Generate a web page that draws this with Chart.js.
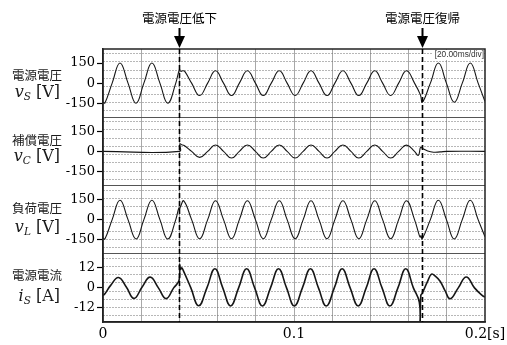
<!doctype html>
<html lang="ja">

<head>
    <meta charset="utf-8">
    <title>電源電圧低下時の補償波形</title>
    <style>
        html, body { margin: 0; padding: 0; background: #fff; }
        #wrap { width: 507px; height: 345px; }
    </style>
</head>

<body>
    <div id="wrap"><canvas id="chart" width="507" height="345"></canvas></div>

    <script src="https://cdn.jsdelivr.net/npm/chart.js@4.4.1/dist/chart.umd.min.js"></script>
    <script>
        // values, time in seconds
        const tSrc = [0, 0.0010, 0.0048, 0.0089, 0.0131, 0.0173, 0.0214, 0.0256, 0.0298, 0.0339,
            0.0381, 0.0400, 0.0408, 0.0418, 0.0428, 0.0464, 0.0506, 0.0548, 0.0589, 0.0631,
            0.0673, 0.0714, 0.0756, 0.0798, 0.0839, 0.0881, 0.0923, 0.0964, 0.1006, 0.1048,
            0.1089, 0.1131, 0.1173, 0.1214, 0.1256, 0.1298, 0.1339, 0.1381, 0.1423, 0.1464,
            0.1506, 0.1548, 0.1589, 0.1631, 0.1662, 0.1672, 0.1714, 0.1756, 0.1798, 0.1839,
            0.1881, 0.1923, 0.1964, 0.2000];
        const vSrc = [-143, -148, 0, 150, 0, -150, 0, 150, 0, -150,
            0, 100, 88, 92, 88, 0, -93, 0, 92, 0,
            -93, 0, 92, 0, -93, 0, 92, 0, -93, 0,
            92, 0, -93, 0, 92, 0, -93, 0, 92, 0,
            -93, 0, 92, 0, -88, -143, 0, 150, 0, -143,
            0, 150, 0, -138];

        const tComp = [0, 0.0400, 0.0403, 0.0412, 0.0425, 0.0464, 0.0506, 0.0548, 0.0589, 0.0631,
            0.0673, 0.0714, 0.0756, 0.0798, 0.0839, 0.0881, 0.0923, 0.0964, 0.1006, 0.1048,
            0.1089, 0.1131, 0.1173, 0.1214, 0.1256, 0.1298, 0.1339, 0.1381, 0.1423, 0.1464,
            0.1506, 0.1548, 0.1589, 0.1631, 0.1651, 0.1663, 0.1672, 0.1700, 0.1730, 0.1765,
            0.1800, 0.2000];
        const vComp = [0, 0, 55, 50, 44, 0, -45, 0, 48, 0,
            -50, 0, 48, 0, -50, 0, 48, 0, -50, 0,
            48, 0, -50, 0, 48, 0, -50, 0, 48, 0,
            -50, 0, 47, 0, -30, 32, 22, 3, -6, -4,
            0, 0];

        const tLoad = [0, 0.0010, 0.0048, 0.0089, 0.0131, 0.0173, 0.0214, 0.0256, 0.0298, 0.0339,
            0.0381, 0.0397, 0.0401, 0.0406, 0.0423, 0.0464, 0.0506, 0.0548, 0.0589, 0.0631,
            0.0673, 0.0714, 0.0756, 0.0798, 0.0839, 0.0881, 0.0923, 0.0964, 0.1006, 0.1048,
            0.1089, 0.1131, 0.1173, 0.1214, 0.1256, 0.1298, 0.1339, 0.1381, 0.1423, 0.1464,
            0.1506, 0.1548, 0.1589, 0.1631, 0.1656, 0.1661, 0.1665, 0.1671, 0.1714, 0.1756,
            0.1798, 0.1839, 0.1881, 0.1923, 0.1964, 0.2000];
        const vLoad = [-138, -145, 0, 145, 0, -145, 0, 145, 0, -145,
            0, 88, 80, 98, 140, 0, -143, 0, 141, 0,
            -143, 0, 141, 0, -143, 0, 141, 0, -143, 0,
            141, 0, -143, 0, 141, 0, -143, 0, 141, 0,
            -143, 0, 141, 0, -118, -132, -120, -145, 0, 145,
            0, -145, 0, 145, 0, -128];

        const tCur = [0, 0.0010, 0.0040, 0.0081, 0.0122, 0.0162, 0.0205, 0.0247, 0.0290, 0.0330,
            0.0370, 0.0398, 0.0401, 0.0406, 0.0412, 0.0420, 0.0460, 0.0501, 0.0544, 0.0586,
            0.0627, 0.0668, 0.0710, 0.0752, 0.0794, 0.0835, 0.0877, 0.0919, 0.0961, 0.1002,
            0.1044, 0.1086, 0.1128, 0.1169, 0.1211, 0.1252, 0.1294, 0.1336, 0.1378, 0.1419,
            0.1461, 0.1502, 0.1544, 0.1585, 0.1625, 0.1656, 0.1660, 0.1664, 0.1670, 0.1700,
            0.1720, 0.1740, 0.1765, 0.1790, 0.1818, 0.1860, 0.1902, 0.1945, 0.1985, 0.2000];
        const iCur = [-4.5, -3.5, 1.5, 6.2, 0.5, -6.3, 0.5, 6.4, 0, -6.4,
            0, 4.5, 14, 11, 12, 10.5, 0, -10.7, 0, 11.4,
            0, -10.8, 0, 11.4, 0, -10.8, 0, 11.4, 0, -10.8,
            0, 11.4, 0, -10.8, 0, 11.4, 0, -10.8, 0, 11.4,
            0, -10.8, 0, 11.4, 0, -8.5, -21, -4.5, -3.5, 4,
            8.2, 7, 4, -1.5, -6.5, 0, 6.5, 0, -4.5, -5.5];

        // axes
        const xGrid = [0, 0.02, 0.04, 0.06, 0.08, 0.1, 0.12, 0.14, 0.16, 0.18, 0.2];
        const xLabelVals = [0, 0.1, 0.2];
        const xLabelText = ['0', '0.1', '0.2[s]'];
        const vTicks = [150, 0, -150];
        const iTicks = [12, 0, -12];
        const vDots = [220, 160, 98, 37, -25, -85, -147, -208];
        const iDots = [17.5, 12.7, 7.8, 3.0, -2.0, -6.8, -11.8, -16.6];

        // text
        const eventTimes = [0.04, 0.1672];
        const eventLabels = ['電源電圧低下', '電源電圧復帰'];
        const panelNames = ['電源電圧', '補償電圧', '負荷電圧', '電源電流'];
        const panelSym = ['v', 'v', 'v', 'i'];
        const panelSub = ['S', 'C', 'L', 'S'];
        const panelUnit = [' [V]', ' [V]', ' [V]', ' [A]'];
        const nameY = [75, 140, 208, 275];
        const symY = [93, 157, 228, 297];

        const INK = '#161616';
        const NONE = 'rgba(0,0,0,0)';
        const DOT = '#6f6f6f';
        const MAJOR = '#a8a8a8';

        function panelAxis(weight, min, max, labelVals, dotVals, showTop) {
            return {
                type: 'linear',
                position: 'left',
                stack: 'scope',
                stackWeight: 1,
                weight: weight,
                min: min,
                max: max,
                afterBuildTicks: s => {
                    s.ticks = [min, ...dotVals, ...labelVals, max].sort((a, b) => a - b).map(v => ({ value: v }));
                },
                afterFit: s => { s.width = 103; s.paddingTop = 0; s.paddingBottom = 0; },
                ticks: {
                    autoSkip: false,
                    padding: 2,
                    color: '#000',
                    font: { family: 'DejaVu Serif', size: 13 },
                    callback: v => labelVals.includes(v) ? String(v) : ''
                },
                grid: {
                    tickLength: 6,
                    lineWidth: 1,
                    tickWidth: 1.2,
                    color: c => {
                        if (!c.tick) return NONE;
                        if (dotVals.includes(c.tick.value)) return DOT;
                        if (showTop && c.tick.value === max) return '#555';
                        return NONE;
                    },
                    tickColor: c => (c.tick && labelVals.includes(c.tick.value)) ? '#000' : NONE
                },
                border: {
                    display: true,
                    color: '#222',
                    width: 1.5,
                    dash: c => (c.tick && dotVals.includes(c.tick.value)) ? [1, 2] : []
                }
            };
        }

        const scopeDecor = {
            id: 'scopeDecor',
            afterDatasetsDraw(chart) {
                const g = chart.ctx;
                const a = chart.chartArea;
                const xs = chart.scales.x;
                g.save();

                // time/div box
                g.fillStyle = '#fff';
                g.fillRect(432, 50, 52, 10);
                g.fillStyle = '#333';
                g.font = '8.3px "Liberation Sans"';
                g.textAlign = 'right';
                g.textBaseline = 'middle';
                g.fillText('[20.00ms/div]', 484, 55);

                // frame
                g.strokeStyle = '#222';
                g.lineWidth = 1.5;
                g.strokeRect(a.left, a.top, a.right - a.left, a.bottom - a.top);

                // event markers
                g.strokeStyle = '#000';
                g.fillStyle = '#000';
                eventTimes.forEach((t, i) => {
                    const px = Math.round(xs.getPixelForValue(t)) + 0.5;
                    g.lineWidth = 1.6;
                    g.setLineDash([5, 3]);
                    g.beginPath();
                    g.moveTo(px, a.top);
                    g.lineTo(px, a.bottom);
                    g.stroke();
                    g.setLineDash([]);
                    g.lineWidth = 2;
                    g.beginPath();
                    g.moveTo(px, 28);
                    g.lineTo(px, 37);
                    g.stroke();
                    g.beginPath();
                    g.moveTo(px - 5.5, 36);
                    g.lineTo(px + 5.5, 36);
                    g.lineTo(px, 48);
                    g.closePath();
                    g.fill();
                    g.font = '12.5px "Noto Sans CJK JP"';
                    g.textAlign = 'center';
                    g.textBaseline = 'middle';
                    g.fillText(eventLabels[i], px, 18);
                });
                g.restore();
            },
            afterDraw(chart) {
                const g = chart.ctx;
                g.save();
                g.fillStyle = '#1a1a1a';
                g.textBaseline = 'middle';
                const fSym = 'italic 16px "DejaVu Serif"';
                const fSub = 'italic 10.5px "DejaVu Serif"';
                const fUnit = '16px "DejaVu Serif"';
                panelNames.forEach((name, i) => {
                    g.textAlign = 'left';
                    g.font = '12.5px "Noto Sans CJK JP"';
                    g.fillText(name, 12, nameY[i]);

                    g.font = fSym; const w1 = g.measureText(panelSym[i]).width;
                    g.font = fSub; const w2 = g.measureText(panelSub[i]).width;
                    g.font = fUnit; const w3 = g.measureText(panelUnit[i]).width;
                    const x0 = 60 - (w1 + w2 + w3);
                    g.font = fSym; g.fillText(panelSym[i], x0, symY[i]);
                    g.font = fSub; g.fillText(panelSub[i], x0 + w1, symY[i] + 4);
                    g.font = fUnit; g.fillText(panelUnit[i], x0 + w1 + w2, symY[i]);
                });
                g.restore();
            }
        };

        const pts = (ts, vs) => ts.map((t, i) => ({ x: t, y: vs[i] }));
        const trace = (data, yAxisID, width) => ({
            data: data,
            yAxisID: yAxisID,
            borderColor: INK,
            borderWidth: width,
            pointRadius: 0,
            tension: 0.45,
            fill: false
        });

        new Chart(document.getElementById('chart'), {
            type: 'line',
            data: {
                datasets: [
                    trace(pts(tSrc, vSrc), 'yS', 1.1),
                    trace(pts(tComp, vComp), 'yC', 1.1),
                    trace(pts(tLoad, vLoad), 'yL', 1.1),
                    trace(pts(tCur, iCur), 'yI', 1.6)
                ]
            },
            options: {
                responsive: false,
                animation: false,
                devicePixelRatio: 1,
                layout: { padding: { left: 0, right: 22, top: 49, bottom: 0 } },
                plugins: { legend: { display: false }, tooltip: { enabled: false } },
                scales: {
                    x: {
                        type: 'linear',
                        position: 'bottom',
                        min: 0,
                        max: 0.2,
                        afterBuildTicks: s => { s.ticks = xGrid.map(v => ({ value: v })); },
                        afterFit: s => { s.height = 23; s.paddingLeft = 0; s.paddingRight = 0; },
                        ticks: {
                            autoSkip: false,
                            maxRotation: 0,
                            padding: 4,
                            color: '#000',
                            font: { family: 'DejaVu Serif', size: 14 },
                            callback: v => {
                                const k = xLabelVals.findIndex(u => Math.abs(u - v) < 1e-9);
                                return k < 0 ? '' : xLabelText[k];
                            }
                        },
                        grid: {
                            drawTicks: false,
                            lineWidth: 1,
                            color: c => (c.tick && c.tick.value > 0.001 && c.tick.value < 0.199) ? MAJOR : NONE
                        },
                        border: { display: true, color: '#222', width: 1.5 }
                    },
                    yS: panelAxis(4, -255, 255, vTicks, vDots, false),
                    yC: panelAxis(3, -255, 255, vTicks, vDots, true),
                    yL: panelAxis(2, -255, 255, vTicks, vDots, true),
                    yI: panelAxis(1, -20.4, 20.4, iTicks, iDots, true)
                }
            },
            plugins: [scopeDecor]
        });
    </script>
</body>

</html>
